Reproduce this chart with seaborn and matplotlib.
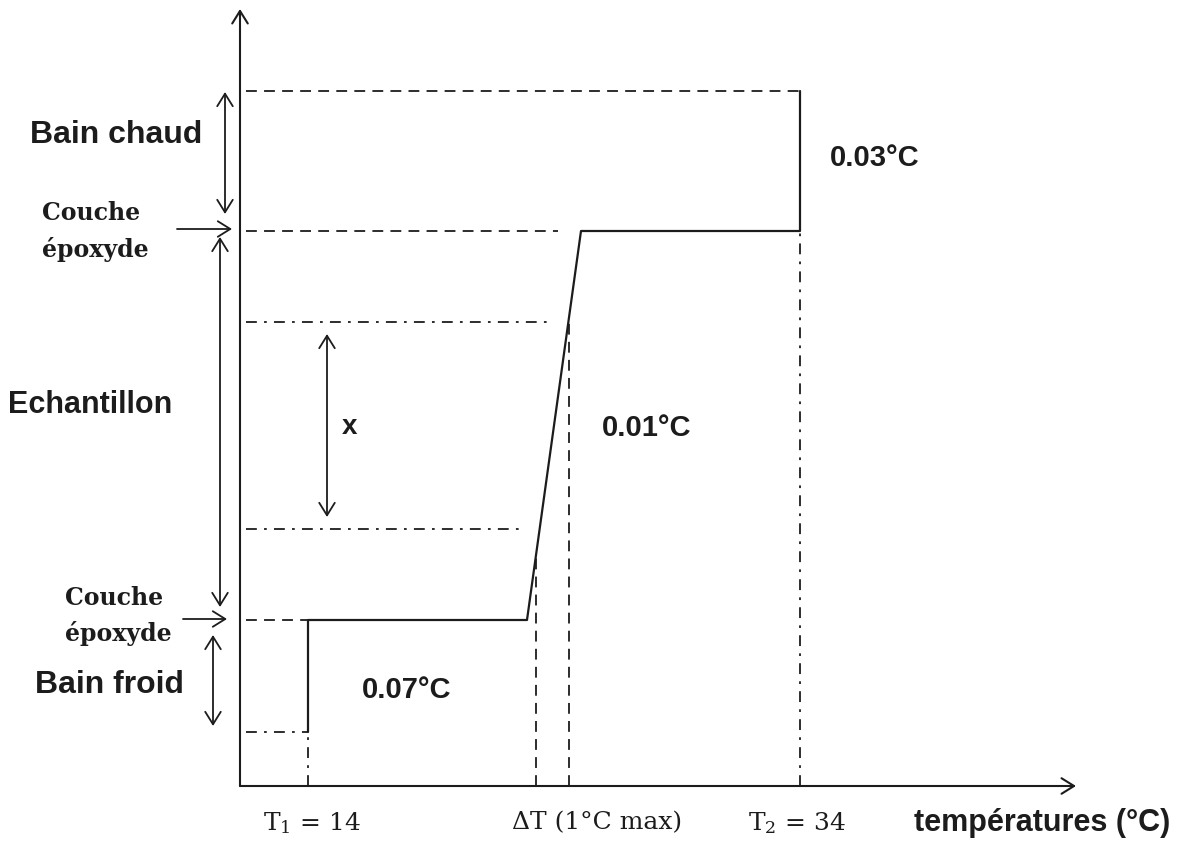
import matplotlib
matplotlib.use("Agg")
import matplotlib.pyplot as plt
import numpy as np
import pandas as pd
import seaborn as sns

# schematic units: x = temperature position, z = height above the T axis
levels = [695, 555, 464, 257, 166, 54]        # layer boundaries
level_ends = [560, 318, 308, 282, 68, 68]      # where each guide stops
level_styles = ["dash", "dash", "dashdot", "dashdot", "dash", "dashdot"]

profile_T = [68, 68, 287, 341, 560, 560]       # temperature profile
profile_z = [54, 166, 166, 555, 555, 695]

v_guides = [68, 296, 329, 560]                 # vertical guides down to the axis
v_tops = [54, 232, 469, 555]
v_styles = ["dashdot", "dash", "dash", "dashdot"]

temp_labels = ["T$_1$ = 14", "ΔT (1°C max)", "T$_2$ = 34"]
temp_label_x = [72, 357, 557]

region_labels = ["0.03°C", "0.01°C", "0.07°C"]
region_xy = [(590, 629), (362, 359), (122, 97)]

styles = {"dash": (0, (6, 4)), "dashdot": (0, (6, 4, 1.5, 4))}
ink = "#1c1c1c"
serif = ["DejaVu Serif", "Liberation Serif"]

sns.set_style("white")
plt.rcParams["font.family"] = ["Liberation Sans", "DejaVu Sans"]
plt.rcParams["mathtext.fontset"] = "dejavuserif"
plt.rcParams["mathtext.default"] = "regular"

fig = plt.figure(figsize=(11.79, 8.45), dpi=100)
ax = fig.add_axes([0, 0, 1, 1])
ax.set_xlim(-240, 939)
ax.set_ylim(-58, 787)
ax.axis("off")

# axes with open arrow heads
arr = dict(arrowstyle="->,head_length=0.45,head_width=0.28", lw=1.5, color=ink,
           shrinkA=0, shrinkB=0, mutation_scale=20)
ax.annotate("", xy=(0, 777), xytext=(0, 0), arrowprops=arr)
ax.annotate("", xy=(836, 0), xytext=(0, 0), arrowprops=arr)

# horizontal guides
for z, xe, st in zip(levels, level_ends, level_styles):
    ax.plot([6, xe], [z, z], color=ink, lw=1.3, linestyle=styles[st])

# vertical guides
for x, zt, st in zip(v_guides, v_tops, v_styles):
    ax.plot([x, x], [0, zt], color=ink, lw=1.3, linestyle=styles[st])

# temperature profile
prof = pd.DataFrame({"T": profile_T, "z": profile_z})
sns.lineplot(data=prof, x="T", y="z", sort=False, color=ink, lw=1.6, ax=ax, estimator=None)
ax.set_xlabel("")
ax.set_ylabel("")

# double arrows
darr = dict(arrowstyle="<->,head_length=0.45,head_width=0.28", lw=1.3, color=ink,
            shrinkA=0, shrinkB=0, mutation_scale=20)
sarr = dict(arrowstyle="->,head_length=0.45,head_width=0.28", lw=1.3, color=ink,
            shrinkA=0, shrinkB=0, mutation_scale=20)
ax.annotate("", xy=(-15, 694), xytext=(-15, 572), arrowprops=darr)
ax.annotate("", xy=(-20, 549), xytext=(-20, 179), arrowprops=darr)
ax.annotate("", xy=(-27, 151), xytext=(-27, 60), arrowprops=darr)
ax.annotate("", xy=(87, 452), xytext=(87, 269), arrowprops=darr)
ax.annotate("", xy=(-8, 557), xytext=(-63, 557), arrowprops=sarr)
ax.annotate("", xy=(-13, 167), xytext=(-57, 167), arrowprops=sarr)

# left labels
sans_b = dict(fontsize=23, fontweight="bold", color=ink, va="center")
serif_b = dict(fontsize=17, fontweight="bold", color=ink, va="center", family=serif)
ax.text(-210, 652, "Bain chaud", **sans_b)
ax.text(-198, 574, "Couche", **serif_b)
ax.text(-198, 538, "époxyde", **serif_b)
ax.text(-232, 382, "Echantillon", fontsize=22, fontweight="bold", color=ink, va="center")
ax.text(-175, 189, "Couche", **serif_b)
ax.text(-175, 153, "époxyde", **serif_b)
ax.text(-205, 102, "Bain froid", **sans_b)
ax.text(109, 360, "x", fontsize=20, fontweight="bold", color=ink, ha="center", va="center")

for lab, (x, z) in zip(region_labels, region_xy):
    ax.text(x, z, lab, fontsize=21, fontweight="bold", color=ink, va="center")

for lab, x in zip(temp_labels, temp_label_x):
    ax.text(x, -36, lab, fontsize=18, color=ink, ha="center", va="center", family=serif)
ax.text(930, -36, "températures (°C)", fontsize=22, fontweight="bold", color=ink,
        ha="right", va="center")

fig.savefig("out.png", dpi=100, facecolor="white")
